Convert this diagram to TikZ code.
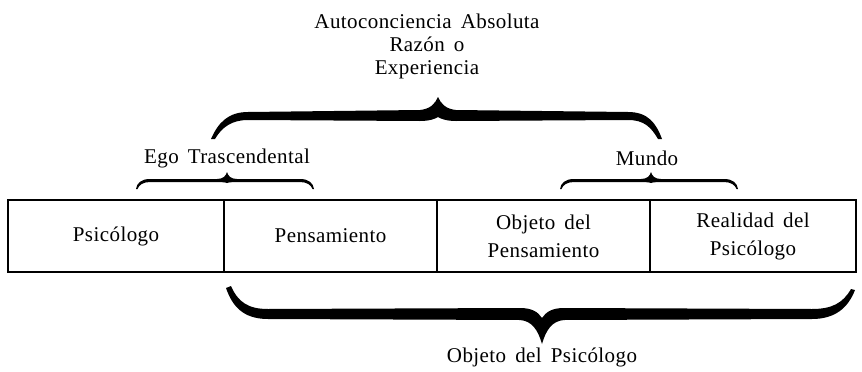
\documentclass[tikz,border=0pt]{standalone}
\usepackage{fontspec}
\setmainfont{Liberation Serif}[LetterSpace=2, WordSpace=1.6]
\usetikzlibrary{positioning}

\tikzset{
  field/.style={draw, rectangle, line width=1.2pt, minimum height=72pt,
    inner sep=0pt, outer sep=0pt, align=center, font=\fontsize{21}{28}\selectfont},
  curly/.style={fill=black, draw=none}
}

\begin{document}
\begin{tikzpicture}[x=1pt, y=-1pt, font=\fontsize{21}{23}\selectfont]
  \useasboundingbox (0,0) rectangle (862,372);

  % the four fields
  \node[field, minimum width=216pt, anchor=west] (psic) at (8,236) {Psicólogo};
  \node[field, minimum width=213pt, right=0pt of psic] (pens) {Pensamiento};
  \node[field, minimum width=213pt, right=0pt of pens] (objpens) {Objeto del\\Pensamiento};
  \node[field, minimum width=206pt, right=0pt of objpens] (realpsic) {Realidad del\\Psicólogo};

  % labels
  \node[align=center] (absoluta) at (427,46) {Autoconciencia Absoluta\\Razón o\\Experiencia};
  \node (ego) at (227,158) {Ego Trascendental};
  \node (mundo) at (647,158) {Mundo};
  \node (objpsic) at (542,357) {Objeto del Psicólogo};

  % big brace above
  \fill[curly] (211,139) .. controls (218,123) and (228,112) .. (248,112)
    -- (420,110) .. controls (430,109) and (435,104) .. (438,97)
    .. controls (441,104) and (446,109) .. (456,110)
    -- (628,112) .. controls (648,112) and (656,123) .. (662,139)
    -- (658,139) .. controls (651,127) and (644,120) .. (628,120)
    -- (456,121) .. controls (447,121) and (441,119) .. (438,117)
    .. controls (435,119) and (429,121) .. (420,121)
    -- (248,120) .. controls (232,120) and (222,127) .. (215,139) -- cycle;

  % small braces
  \foreach \dx in {0,424}{
    \begin{scope}[xshift=\dx pt]
      \fill[curly] (136,189) .. controls (137,183) and (141,179) .. (150,179)
        -- (217,179) .. controls (223,179) and (226,176) .. (227,172)
        .. controls (228,176) and (231,179) .. (237,179)
        -- (300,179) .. controls (309,179) and (313,183) .. (314,189)
        -- (312.5,189) .. controls (311,185) and (307,182) .. (300,182)
        -- (237,182) .. controls (232,182) and (228,182.5) .. (227,183)
        .. controls (226,182.5) and (222,182) .. (217,182)
        -- (150,182) .. controls (143,182) and (139,185) .. (137.5,189) -- cycle;
    \end{scope}
  }

  % big brace below
  \fill[curly] (226,288) .. controls (232,305) and (242,319) .. (268,319)
    -- (520,320) .. controls (532,321) and (538,330) .. (542,344)
    .. controls (546,330) and (552,321) .. (564,320)
    -- (812,319) .. controls (835,319) and (848,308) .. (855,290)
    -- (851,289) .. controls (843,303) and (832,309) .. (812,309)
    -- (564,308) .. controls (552,308) and (546,312) .. (542,318)
    .. controls (538,312) and (532,308) .. (520,308)
    -- (268,309) .. controls (248,309) and (238,302) .. (231,286) -- cycle;
\end{tikzpicture}
\end{document}
